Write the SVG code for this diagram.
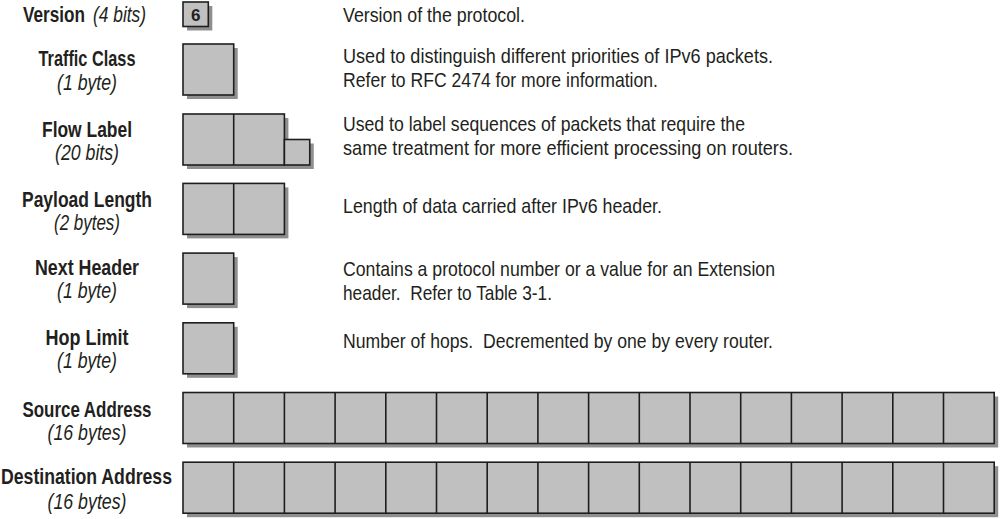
<svg xmlns="http://www.w3.org/2000/svg" width="1000" height="519" viewBox="0 0 1000 519">
<style>
.lb{font-family:"Liberation Sans",Arial,sans-serif;font-weight:bold;font-size:22px;fill:#231f20;text-anchor:middle}
.li{font-family:"Liberation Sans",Arial,sans-serif;font-style:italic;font-size:22px;fill:#231f20;text-anchor:middle}
.d{font-family:"Liberation Sans",Arial,sans-serif;font-size:21px;fill:#231f20;white-space:pre}
.box{fill:#c0c0c0;stroke:#1e1e1e;stroke-width:1.6}
.sh{fill:#8f8f8f}
.dv{stroke:#1e1e1e;stroke-width:1.6}
</style>
<rect width="1000" height="519" fill="#ffffff"/>

<g id="version">
  <text class="lb" transform="translate(23,22) scale(0.78,1)" x="0" y="0" style="text-anchor:start">Version</text>
  <text class="li" transform="translate(93,22) scale(0.79,1)" x="0" y="0" style="text-anchor:start">(4 bits)</text>
  <rect class="sh" x="187" y="6" width="25.3" height="24.5"/>
  <rect class="box" x="183" y="2" width="25.3" height="24.5"/>
  <text class="lb" x="195.7" y="21" style="font-size:17px">6</text>
  <text class="d" x="343" y="22" textLength="182" lengthAdjust="spacingAndGlyphs">Version of the protocol.</text>
</g>

<g id="traffic-class">
  <text class="lb" x="87" y="66" textLength="97" lengthAdjust="spacingAndGlyphs">Traffic Class</text>
  <text class="li" x="87" y="90" textLength="60" lengthAdjust="spacingAndGlyphs">(1 byte)</text>
  <rect class="sh" x="187" y="48" width="50.7" height="51"/>
  <rect class="box" x="183" y="44" width="50.7" height="51"/>
  <text class="d" x="343" y="63" textLength="430" lengthAdjust="spacingAndGlyphs">Used to distinguish different priorities of IPv6 packets.</text>
  <text class="d" x="343" y="87" textLength="315" lengthAdjust="spacingAndGlyphs">Refer to RFC 2474 for more information.</text>
</g>

<g id="flow-label">
  <text class="lb" x="87" y="137" textLength="90" lengthAdjust="spacingAndGlyphs">Flow Label</text>
  <text class="li" x="87" y="160" textLength="64" lengthAdjust="spacingAndGlyphs">(20 bits)</text>
  <polygon class="sh" points="187,118 288.4,118 288.4,143.5 313.75,143.5 313.75,169 187,169"/>
  <rect class="box" x="183" y="114" width="101.4" height="51"/>
  <line class="dv" x1="233.7" y1="114" x2="233.7" y2="165"/>
  <rect class="box" x="284.4" y="139.5" width="25.35" height="25.5"/>
  <text class="d" x="343" y="131" textLength="402" lengthAdjust="spacingAndGlyphs">Used to label sequences of packets that require the</text>
  <text class="d" x="343" y="155" textLength="450" lengthAdjust="spacingAndGlyphs">same treatment for more efficient processing on routers.</text>
</g>

<g id="payload-length">
  <text class="lb" x="87" y="207" textLength="130" lengthAdjust="spacingAndGlyphs">Payload Length</text>
  <text class="li" x="87" y="230" textLength="66" lengthAdjust="spacingAndGlyphs">(2 bytes)</text>
  <rect class="sh" x="187" y="187.4" width="101.4" height="51"/>
  <rect class="box" x="183" y="183.4" width="101.4" height="51"/>
  <line class="dv" x1="233.7" y1="183.4" x2="233.7" y2="234.4"/>
  <text class="d" x="343" y="213" textLength="319" lengthAdjust="spacingAndGlyphs">Length of data carried after IPv6 header.</text>
</g>

<g id="next-header">
  <text class="lb" x="87" y="275" textLength="104" lengthAdjust="spacingAndGlyphs">Next Header</text>
  <text class="li" x="87" y="298" textLength="60" lengthAdjust="spacingAndGlyphs">(1 byte)</text>
  <rect class="sh" x="187" y="257.1" width="50.7" height="51"/>
  <rect class="box" x="183" y="253.1" width="50.7" height="51"/>
  <text class="d" x="343" y="276" textLength="432" lengthAdjust="spacingAndGlyphs">Contains a protocol number or a value for an Extension</text>
  <text class="d" x="343" y="300" textLength="209" lengthAdjust="spacingAndGlyphs">header.  Refer to Table 3-1.</text>
</g>

<g id="hop-limit">
  <text class="lb" x="87" y="345" textLength="83" lengthAdjust="spacingAndGlyphs">Hop Limit</text>
  <text class="li" x="87" y="368" textLength="60" lengthAdjust="spacingAndGlyphs">(1 byte)</text>
  <rect class="sh" x="187" y="326.8" width="50.7" height="51"/>
  <rect class="box" x="183" y="322.8" width="50.7" height="51"/>
  <text class="d" x="343" y="348" textLength="430" lengthAdjust="spacingAndGlyphs">Number of hops.  Decremented by one by every router.</text>
</g>

<g id="source-address">
  <text class="lb" x="87" y="417" textLength="129" lengthAdjust="spacingAndGlyphs">Source Address</text>
  <text class="li" x="87" y="440" textLength="79" lengthAdjust="spacingAndGlyphs">(16 bytes)</text>
  <rect class="sh" x="187" y="396.5" width="811.2" height="51"/>
  <rect class="box" x="183" y="392.5" width="811.2" height="51"/>
  <path class="dv" d="M233.7 392.5V443.5M284.4 392.5V443.5M335.1 392.5V443.5M385.8 392.5V443.5M436.5 392.5V443.5M487.2 392.5V443.5M537.9 392.5V443.5M588.6 392.5V443.5M639.3 392.5V443.5M690 392.5V443.5M740.7 392.5V443.5M791.4 392.5V443.5M842.1 392.5V443.5M892.8 392.5V443.5M943.5 392.5V443.5"/>
</g>

<g id="destination-address">
  <text class="lb" x="86.5" y="484" textLength="171" lengthAdjust="spacingAndGlyphs">Destination Address</text>
  <text class="li" x="87" y="509" textLength="79" lengthAdjust="spacingAndGlyphs">(16 bytes)</text>
  <rect class="sh" x="187" y="466.2" width="811.2" height="51"/>
  <rect class="box" x="183" y="462.2" width="811.2" height="51"/>
  <path class="dv" d="M233.7 462.2V513.2M284.4 462.2V513.2M335.1 462.2V513.2M385.8 462.2V513.2M436.5 462.2V513.2M487.2 462.2V513.2M537.9 462.2V513.2M588.6 462.2V513.2M639.3 462.2V513.2M690 462.2V513.2M740.7 462.2V513.2M791.4 462.2V513.2M842.1 462.2V513.2M892.8 462.2V513.2M943.5 462.2V513.2"/>
</g>
</svg>
